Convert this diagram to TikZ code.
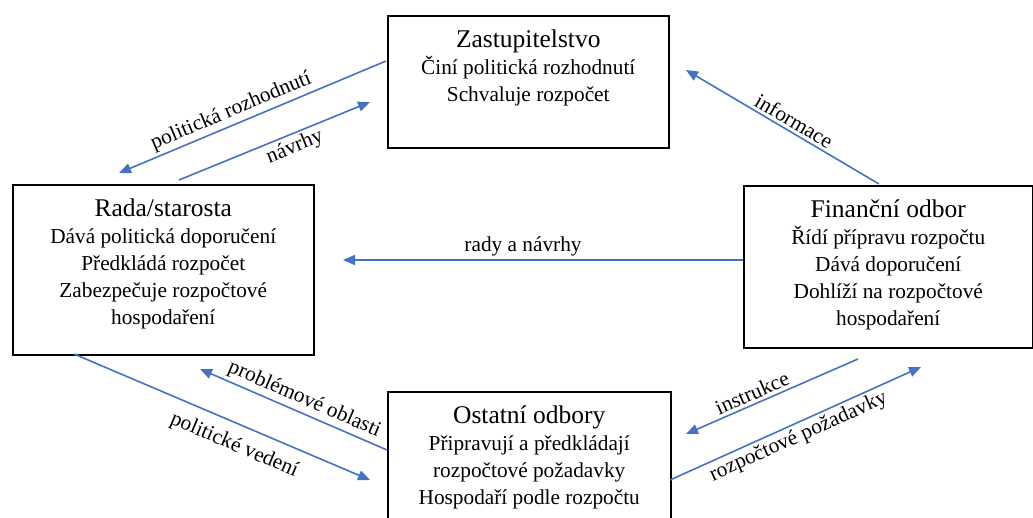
\documentclass[tikz,border=0pt]{standalone}
\usepackage{fontspec}
\setmainfont{Liberation Serif}
\usetikzlibrary{arrows.meta}
\definecolor{arrowblue}{HTML}{4472C4}
\newcommand{\titlesize}{\fontsize{25.5}{28}\selectfont}
\newcommand{\bodysize}{\fontsize{21.3}{27}\selectfont}
\newcommand{\boxtext}[4]{\parbox[c][#2][t]{#1}{\centering\bodysize{\titlesize\rule{0pt}{32pt}#3}\\#4}}

\begin{document}
\begin{tikzpicture}[x=1pt, y=-1pt,
    unit/.style={draw, line width=1.5pt, inner sep=0pt, anchor=north west},
    flow/.style={draw=arrowblue, line width=1.6pt, -{Triangle[length=12pt, width=10pt]}},
    lbl/.style={sloped, inner sep=3pt, font=\fontsize{21.3}{24}\selectfont}]
        \useasboundingbox (0,0) rectangle (1033,517);

        % boxes
        \node[unit] (zast) at (387,15) {\boxtext{281pt}{132pt}{Zastupitelstvo}{Činí politická rozhodnutí\\Schvaluje rozpočet}};
        \node[unit] (rada) at (12,184) {\boxtext{301pt}{170pt}{Rada/starosta}{Dává politická doporučení\\Předkládá rozpočet\\Zabezpečuje rozpočtové\\hospodaření}};
        \node[unit] (fin) at (743,185) {\boxtext{289pt}{162pt}{Finanční odbor}{Řídí přípravu rozpočtu\\Dává doporučení\\Dohlíží na rozpočtové\\hospodaření}};
        \node[unit] (ost) at (387,391) {\boxtext{283pt}{140pt}{Ostatní odbory}{Připravují a předkládají\\rozpočtové požadavky\\Hospodaří podle rozpočtu}};

        % arrow ends
        \coordinate (zastOut) at (386,61);
        \coordinate (radaIn) at (119,173);
        \coordinate (radaOut) at (179,180);
        \coordinate (zastIn) at (370,102);
        \coordinate (finUp) at (879,184);
        \coordinate (zastRight) at (686,70);
        \coordinate (finLeft) at (743,260);
        \coordinate (radaRight) at (343,260);
        \coordinate (ostLeft) at (387,450);
        \coordinate (radaLow) at (200,369);
        \coordinate (radaBottom) at (74,354);
        \coordinate (ostIn) at (370,480);
        \coordinate (finDown) at (858,359);
        \coordinate (ostRight) at (686,434);
        \coordinate (ostOut) at (670,480);
        \coordinate (finIn) at (921,367);

        % arrows
        \draw[flow] (zastOut) -- (radaIn) node[lbl, above, pos=0.56] {politická rozhodnutí};
        \draw[flow] (radaOut) -- (zastIn) node[lbl, below, pos=0.58] {návrhy};
        \draw[flow] (finUp) -- (zastRight) node[lbl, above, pos=0.47] {informace};
        \draw[flow] (finLeft) -- (radaRight) node[lbl, above, pos=0.55] {rady a návrhy};
        \draw[flow] (ostLeft) -- (radaLow) node[lbl, above, pos=0.47] {problémové oblasti};
        \draw[flow] (radaBottom) -- (ostIn) node[lbl, below=8pt, pos=0.57] {politické vedení};
        \draw[flow] (finDown) -- (ostRight) node[lbl, above, pos=0.59] {instrukce};
        \draw[flow] (ostOut) -- (finIn) node[lbl, below, pos=0.49] {rozpočtové požadavky};
\end{tikzpicture}
\end{document}
